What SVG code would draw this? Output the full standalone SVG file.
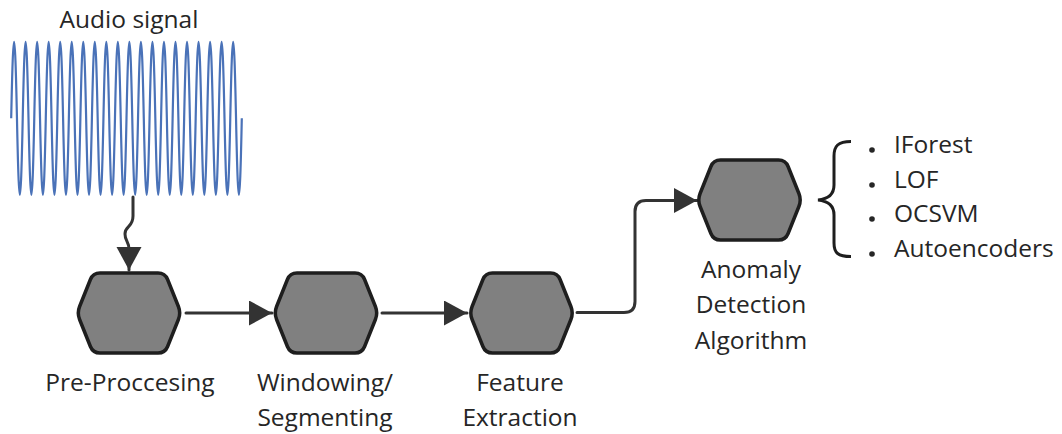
<svg xmlns="http://www.w3.org/2000/svg" width="1062" height="434" viewBox="0 0 1062 434">
  <style>
    .lbl { font-family: "Open Sans", "Liberation Sans", sans-serif; font-size: 24.5px; fill: #262626; text-anchor: middle; }
    .item { font-family: "Open Sans", "Liberation Sans", sans-serif; font-size: 24.5px; fill: #262626; }
    .hex { fill: #808080; stroke: #1e1e1e; stroke-width: 3.5; stroke-linejoin: round; }
    .edge { fill: none; stroke: #333333; stroke-width: 3; stroke-linecap: round; stroke-linejoin: round; }
    .wave { fill: none; stroke: #4a72b8; stroke-width: 2.2; }
  </style>
  <defs>
    <path id="hexShape" d="M -49.4,-6.5 L -38.6,-33.5 Q -36,-40 -29,-40 L 29,-40 Q 36,-40 38.6,-33.5 L 49.4,-6.5 Q 52,0 49.4,6.5 L 38.6,33.5 Q 36,40 29,40 L -29,40 Q -36,40 -38.6,33.5 L -49.4,6.5 Q -52,0 -49.4,-6.5 Z"/>
    <marker id="arrow" markerUnits="userSpaceOnUse" markerWidth="24" markerHeight="26" refX="23" refY="12.5" orient="auto">
      <path d="M 0,0 L 23,12.5 L 0,25 Z" fill="#333333"/>
    </marker>
  </defs>

  <!-- input signal -->
  <g id="audio-signal">
    <text class="lbl" x="129" y="28" font-size="24">Audio signal</text>
    <path class="wave" d="M 11.2,118.3 c 2.1,-102 3.665,-102 5.765,0 s 3.665,102 5.765,0 s 3.665,-102 5.765,0 s 3.665,102 5.765,0 s 3.665,-102 5.765,0 s 3.665,102 5.765,0 s 3.665,-102 5.765,0 s 3.665,102 5.765,0 s 3.665,-102 5.765,0 s 3.665,102 5.765,0 s 3.665,-102 5.765,0 s 3.665,102 5.765,0 s 3.665,-102 5.765,0 s 3.665,102 5.765,0 s 3.665,-102 5.765,0 s 3.665,102 5.765,0 s 3.665,-102 5.765,0 s 3.665,102 5.765,0 s 3.665,-102 5.765,0 s 3.665,102 5.765,0 s 3.665,-102 5.765,0 s 3.665,102 5.765,0 s 3.665,-102 5.765,0 s 3.665,102 5.765,0 s 3.665,-102 5.765,0 s 3.665,102 5.765,0 s 3.665,-102 5.765,0 s 3.665,102 5.765,0 s 3.665,-102 5.765,0 s 3.665,102 5.765,0 s 3.665,-102 5.765,0 s 3.665,102 5.765,0 s 3.665,-102 5.765,0 s 3.665,102 5.765,0 s 3.665,-102 5.765,0 s 3.665,102 5.765,0 s 3.665,-102 5.765,0 s 3.665,102 5.765,0 s 3.665,-102 5.765,0 s 3.665,102 5.765,0"/>
  </g>

  <!-- connectors -->
  <g id="connectors">
    <path class="edge" d="M 133,197 L 133,216 C 133,228 125,225 125,234 C 125,242 129,240 129,250 L 129,270" marker-end="url(#arrow)"/>
    <path class="edge" d="M 186,313 L 272,313" marker-end="url(#arrow)"/>
    <path class="edge" d="M 382,313 L 467,313" marker-end="url(#arrow)"/>
    <path class="edge" d="M 577,312.5 L 624,312.5 Q 635,312.5 635,301.5 L 635,211.5 Q 635,200.5 646,200.5 L 697,200.5" marker-end="url(#arrow)"/>
  </g>

  <g id="pre-processing">
    <use href="#hexShape" class="hex" x="129" y="313"/>
    <text class="lbl" x="130" y="391">Pre-Proccesing</text>
  </g>

  <g id="windowing">
    <use href="#hexShape" class="hex" x="326" y="313"/>
    <text class="lbl" x="325" y="391">Windowing/</text>
    <text class="lbl" x="325" y="426">Segmenting</text>
  </g>

  <g id="feature-extraction">
    <use href="#hexShape" class="hex" x="521.5" y="313"/>
    <text class="lbl" x="520" y="391">Feature</text>
    <text class="lbl" x="520" y="426">Extraction</text>
  </g>

  <g id="anomaly-detection">
    <use href="#hexShape" class="hex" x="749.5" y="200"/>
    <text class="lbl" x="751" y="278">Anomaly</text>
    <text class="lbl" x="751" y="313">Detection</text>
    <text class="lbl" x="751" y="349">Algorithm</text>
  </g>

  <g id="algorithm-list">
    <path d="M 851,141.5 C 838,141.5 834,146 834,156 L 834,185 C 834,194 828,199 818,200 C 828,201 834,206 834,215 L 834,243 C 834,253 838,256.5 851,256.5" fill="none" stroke="#1e1e1e" stroke-width="3"/>
    <circle cx="872" cy="150" r="2.8" fill="#262626"/>
    <circle cx="872" cy="185" r="2.8" fill="#262626"/>
    <circle cx="872" cy="219" r="2.8" fill="#262626"/>
    <circle cx="872" cy="254" r="2.8" fill="#262626"/>
    <text class="item" x="894" y="153">IForest</text>
    <text class="item" x="894" y="188">LOF</text>
    <text class="item" x="894" y="222">OCSVM</text>
    <text class="item" x="894" y="257">Autoencoders</text>
  </g>
</svg>
